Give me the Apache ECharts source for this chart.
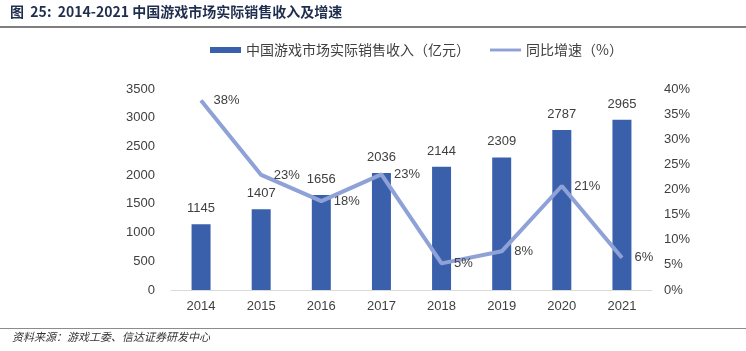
<!DOCTYPE html>
<html>
<head>
<meta charset="utf-8">
<script src="https://cdn.jsdelivr.net/npm/echarts@6/dist/echarts.min.js"></script>
<style>
  html, body { margin: 0; padding: 0; background: #fff; }
  #chart { width: 746px; height: 351px; }
</style>
</head>
<body>
<div id="chart"></div>
<script>
var years = ['2014', '2015', '2016', '2017', '2018', '2019', '2020', '2021'];
var revenue = [1145, 1407, 1656, 2036, 2144, 2309, 2787, 2965];
var growth = [37.7, 22.9, 17.7, 23.0, 5.3, 7.7, 20.7, 6.4];

var chart = echarts.init(document.getElementById('chart'));
var txt = '#404040';
var font = 'Liberation Sans, "Noto Sans CJK SC", sans-serif';

var option = {
  animation: false,
  textStyle: { fontFamily: font },
  graphic: [
    {
      type: 'text', left: 10, top: 5,
      style: { text: '图  25:  2014-2021 中国游戏市场实际销售收入及增速', font: 'bold 14px "Noto Sans CJK SC", sans-serif', fill: '#1f2d4e' }
    },
    { type: 'rect', shape: { x: 0, y: 26, width: 746, height: 2 }, style: { fill: '#7f7f7f' } },
    { type: 'rect', shape: { x: 0, y: 328, width: 746, height: 1 }, style: { fill: '#8c8c8c' } },
    {
      type: 'text', left: 12, top: 331,
      style: { text: '资料来源：游戏工委、信达证券研发中心', font: 'italic 11px "Noto Sans CJK SC", sans-serif', fill: '#333' }
    }
  ],
  legend: {
    top: 38, left: 205,
    itemGap: 20,
    textStyle: { fontSize: 14, color: txt, fontFamily: '"Noto Sans CJK SC", sans-serif' },
    data: [
      { name: '中国游戏市场实际销售收入（亿元）', icon: 'rect', itemStyle: { color: '#3B60AB' } },
      { name: '同比增速（%）', icon: 'path://M0,4 L32,4 L32,7 L0,7 Z' }
    ],
    itemWidth: 31, itemHeight: 6
  },
  grid: { left: 171, right: 94, top: 89, bottom: 61 },
  xAxis: {
    type: 'category', data: years,
    axisLine: { lineStyle: { color: '#d9d9d9' } },
    axisTick: { show: false },
    axisLabel: { color: txt, fontSize: 13, margin: 10 }
  },
  yAxis: [
    {
      type: 'value', min: 0, max: 3500, interval: 500,
      splitLine: { show: false },
      axisLabel: { color: txt, fontSize: 13, margin: 16, formatter: function (v) { return String(v); } }
    },
    {
      type: 'value', min: 0, max: 40, interval: 5,
      splitLine: { show: false },
      axisLabel: { color: txt, fontSize: 13, margin: 12, formatter: '{value}%' }
    }
  ],
  series: [
    {
      name: '中国游戏市场实际销售收入（亿元）', type: 'bar', data: revenue,
      barWidth: 19,
      itemStyle: { color: '#3B60AB' },
      label: { show: true, position: 'top', distance: 9, color: txt, fontSize: 13 }
    },
    {
      name: '同比增速（%）', type: 'line', yAxisIndex: 1, data: growth,
      symbol: 'circle', symbolSize: 1, showSymbol: true,
      lineStyle: { color: '#8FA2D8', width: 4 },
      itemStyle: { color: '#8FA2D8' },
      label: {
        show: true, position: 'right', distance: 12, color: txt, fontSize: 13,
        formatter: function (p) { return Math.round(p.value) + '%'; }
      },
      labelLayout: { hideOverlap: false }
    }
  ]
};

chart.setOption(option);
window.addEventListener('resize', function () {
  chart.resize();
});
</script>
</body>
</html>
